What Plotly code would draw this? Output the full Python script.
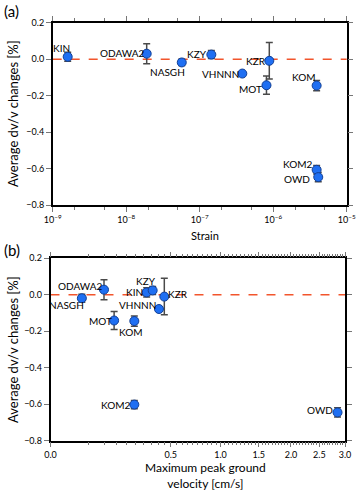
import numpy as np
import plotly.graph_objects as go

# ---------- data ----------
stations_a = ["KIN", "ODAWA2", "NASGH", "KZY", "VHNNN", "KZR", "MOT", "KOM", "KOM2", "OWD"]
strain = [1.6e-9, 1.9e-8, 5.7e-8, 1.44e-7, 3.8e-7, 8.85e-7, 8.1e-7, 3.9e-6, 3.9e-6, 4.1e-6]
dvv_a = [0.013, 0.030, -0.018, 0.025, -0.079, -0.009, -0.143, -0.145, -0.607, -0.647]
err_a = [0.025, 0.055, 0.017, 0.022, 0.010, 0.100, 0.050, 0.028, 0.023, 0.025]

stations_b = ["NASGH", "ODAWA2", "MOT", "KOM", "KIN", "KZY", "VHNNN", "KZR", "KOM2", "OWD"]
pgv = [0.034, 0.099, 0.14, 0.243, 0.32, 0.361, 0.407, 0.448, 0.243, 2.85]
dvv_b = [-0.019, 0.028, -0.141, -0.144, 0.013, 0.024, -0.078, -0.010, -0.602, -0.645]
err_b = [0.022, 0.055, 0.050, 0.028, 0.025, 0.022, 0.010, 0.100, 0.023, 0.025]

strain_ticks = [1e-9, 1e-8, 1e-7, 1e-6, 1e-5]
strain_ticktext = ["10<sup>\u22129</sup>", "10<sup>\u22128</sup>", "10<sup>\u22127</sup>",
                   "10<sup>\u22126</sup>", "10<sup>\u22125</sup>"]
pgv_ticks = [0.0, 0.5, 1.0, 1.5, 2.0, 2.5, 3.0]
pgv_ticktext = ["0.0", "0.5", "1.0", "1.5", "2.0", "2.5", "3.0"]
y_ticks = [0.2, 0.0, -0.2, -0.4, -0.6, -0.8]
y_ticktext = ["0.2", "0.0", "\u22120.2", "\u22120.4", "\u22120.6", "\u22120.8"]

# label offsets in pixels (dx, dy) relative to point -- styling only
offs_a = {"KIN": (-6, 9), "ODAWA2": (-25, 1), "NASGH": (-14, -10), "KZY": (-14, 1),
          "VHNNN": (-22, 0), "KZR": (-13, 0), "MOT": (-16, -4), "KOM": (-13, 9),
          "KOM2": (-19, 6), "OWD": (-21, -2)}
offs_b = {"NASGH": (-15, -7), "ODAWA2": (-24, 4), "MOT": (-14, 0), "KOM": (-3, -11),
          "KIN": (-12, 0), "KZY": (-7, 9), "VHNNN": (-21, 4), "KZR": (14, 3),
          "KOM2": (-19, 0), "OWD": (-18, 2)}

FONT = "Lato"
W, H = 357, 490
marker = dict(color="#1f6ff2", size=9, line=dict(color="#123f95", width=1))
errstyle = dict(type="data", visible=True, color="#4a4a4a", thickness=1.5, width=3.5)

fig = go.Figure()
fig.add_trace(go.Scatter(x=strain, y=dvv_a, mode="markers", marker=marker,
                         error_y=dict(array=err_a, **errstyle), xaxis="x", yaxis="y",
                         showlegend=False, hoverinfo="skip"))
sq = np.sqrt(np.array(pgv))
fig.add_trace(go.Scatter(x=sq, y=dvv_b, mode="markers", marker=marker,
                         error_y=dict(array=err_b, **errstyle), xaxis="x2", yaxis="y2",
                         showlegend=False, hoverinfo="skip"))

ann = []
for s, xv, yv in zip(stations_a, strain, dvv_a):
    dx, dy = offs_a[s]
    ann.append(dict(x=np.log10(xv), y=yv, xref="x", yref="y", text=s, showarrow=False,
                    xanchor="center", yanchor="middle",
                    xshift=dx, yshift=dy, font=dict(family=FONT, size=10, color="black")))
for s, xv, yv in zip(stations_b, sq, dvv_b):
    dx, dy = offs_b[s]
    ann.append(dict(x=xv, y=yv, xref="x2", yref="y2", text=s, showarrow=False,
                    xanchor="center", yanchor="middle",
                    xshift=dx, yshift=dy, font=dict(family=FONT, size=10, color="black")))

# panel letters and titles
ann += [
    dict(x=2 / W, y=1 - 11 / H, xref="paper", yref="paper", text="(a)", showarrow=False,
         xanchor="left", yanchor="middle", font=dict(family=FONT, size=15, color="black")),
    dict(x=2 / W, y=1 - 250 / H, xref="paper", yref="paper", text="(b)", showarrow=False,
         xanchor="left", yanchor="middle", font=dict(family=FONT, size=15, color="black")),
    dict(x=13 / W, y=1 - 114 / H, xref="paper", yref="paper", text="Average dv/v changes [%]",
         textangle=-90, showarrow=False, xanchor="center", yanchor="middle",
         font=dict(family=FONT, size=13, color="black")),
    dict(x=13 / W, y=1 - 350 / H, xref="paper", yref="paper", text="Average dv/v changes [%]",
         textangle=-90, showarrow=False, xanchor="center", yanchor="middle",
         font=dict(family=FONT, size=13, color="black")),
    dict(x=205 / W, y=1 - 235 / H, xref="paper", yref="paper", text="Strain",
         showarrow=False, xanchor="center", yanchor="middle",
         font=dict(family=FONT, size=11, color="black")),
    dict(x=206 / W, y=1 - 475 / H, xref="paper", yref="paper",
         text="Maximum peak ground<br>velocity [cm/s]", showarrow=False,
         xanchor="center", yanchor="middle", borderpad=0,
         font=dict(family=FONT, size=12, color="black")),
]

common_ax = dict(showline=True, linecolor="black", linewidth=1.5, mirror="ticks",
                 ticks="outside", tickcolor="#777", tickwidth=1, showgrid=False,
                 zeroline=False, automargin=False, fixedrange=True,
                 tickfont=dict(family=FONT, size=9, color="black"))

fig.update_layout(
    width=W, height=H, margin=dict(l=0, r=0, t=0, b=0, pad=0, autoexpand=False),
    paper_bgcolor="white", plot_bgcolor="white",
    annotations=ann,
    xaxis=dict(type="log", range=[-9, -5], domain=[52.7 / W, 346.7 / W], anchor="y",
               tickmode="array", tickvals=strain_ticks, ticktext=strain_ticktext, ticklen=5,
               minor=dict(ticks="outside", tickmode="array", ticklen=3, tickcolor="#777",
                          tickvals=[m * 10.0 ** e for e in range(-9, -5) for m in (2, 5)]),
               **common_ax),
    yaxis=dict(range=[-0.8, 0.2], domain=[1 - 205 / H, 1 - 22.7 / H], anchor="x",
               tickmode="array", tickvals=y_ticks, ticktext=y_ticktext, ticklen=5, **common_ax),
    xaxis2=dict(range=[0, np.sqrt(3.0)], domain=[50.5 / W, 345 / W], anchor="y2",
                tickmode="array", tickvals=np.sqrt(pgv_ticks).tolist(), ticktext=pgv_ticktext,
                ticklen=5, ticklabelstandoff=0,
                minor=dict(ticks="outside", tickmode="array", ticklen=3, tickcolor="#777",
                           tickvals=[float(np.sqrt(v)) for v in np.arange(0.05, 3.0, 0.05)
                                     if abs(v * 2 - round(v * 2)) > 1e-6]),
                **common_ax),
    yaxis2=dict(range=[-0.8, 0.2], domain=[1 - 440.7 / H, 1 - 258.3 / H], anchor="x2",
                tickmode="array", tickvals=y_ticks, ticktext=y_ticktext, ticklen=5, **common_ax),
    shapes=[
        dict(type="line", xref="x domain", yref="y", x0=0, x1=1, y0=0, y1=0,
             line=dict(color="#f2552c", width=1.5, dash="dash"), layer="below"),
        dict(type="line", xref="x2 domain", yref="y2", x0=0, x1=1, y0=0, y1=0,
             line=dict(color="#f2552c", width=1.5, dash="dash"), layer="below"),
    ],
)

fig.write_html("out.html", config={"displayModeBar": False},
               post_script="document.body.style.margin='0px';")
